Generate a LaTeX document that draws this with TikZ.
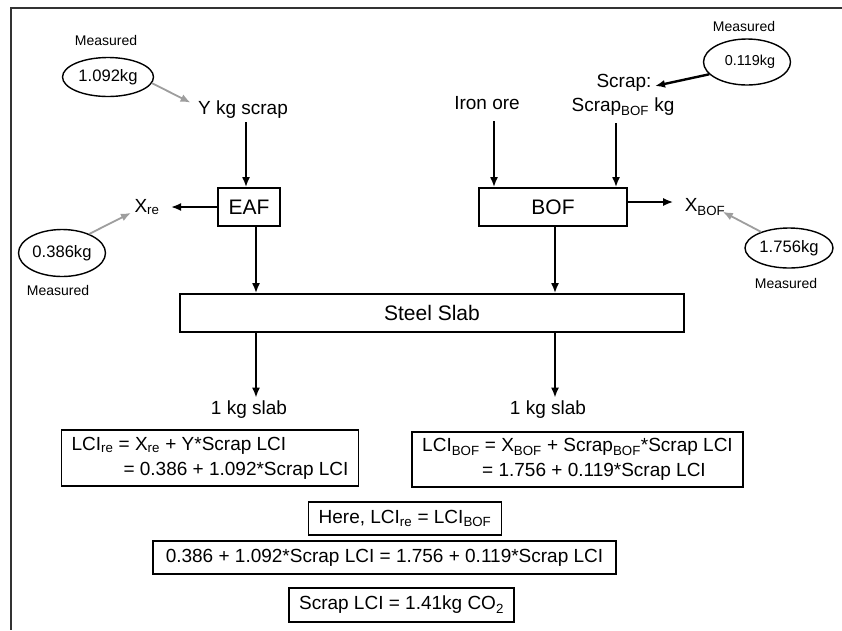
\documentclass[tikz,border=0pt]{standalone}
\usepackage{fontspec}
\setmainfont{Liberation Sans}
\usepackage{xcolor}
\usetikzlibrary{arrows.meta,calc,positioning,shapes.geometric}
\definecolor{arrowgray}{RGB}{158,158,158}
\tikzset{%
	txt/.style       = {font=\fontsize{19}{24}\selectfont},
	meas/.style      = {font=\fontsize{14}{16}\selectfont},
	valell/.style    = {draw, ellipse, line width=1.4pt, inner sep=0pt, font=\fontsize{16.6}{18}\selectfont},
	process/.style   = {draw, rectangle, line width=1.8pt, minimum height=38pt, text centered, font=\fontsize{21}{24}\selectfont},
	eqbox/.style     = {draw, rectangle, line width=1.5pt, inner xsep=10pt, font=\fontsize{19}{25}\selectfont},
	arrow/.style     = {line width=1.8pt, -{Latex[length=10pt,width=8pt]}},
	grayarrow/.style = {arrow, draw=arrowgray},
}
\begin{document}
\begin{tikzpicture}[x=1pt,y=-1pt]
		\useasboundingbox (0,0) rectangle (842,630);
		\draw[line width=1.4pt, black!80] (842,8) -- (11,8) -- (11,630);  % frame
		% EAF route
		\node[meas] (meas1) at (106,40) {Measured};
		\node[valell, minimum width=91pt, minimum height=39pt] (val1) at (108,77) {1.092kg};
		\node[txt] (yscrap) at (243,110) {Y kg scrap};
		\node[process, minimum width=62pt] (eaf) at (249,207) {EAF};
		\node[txt] (xre) at (147,207) {X\textsubscript{re}};
		\node[valell, minimum width=87pt, minimum height=47pt] (val2) at (62,253) {0.386kg};
		\node[meas] (meas2) at (58,290) {Measured};
		% BOF route
		\node[txt] (iron) at (487,103) {Iron ore};
		\node[txt] (scraplbl) at (624,83) {Scrap:};
		\node[txt] (scrapbof) at (623,107) {Scrap\textsubscript{BOF} kg};
		\node[meas] (meas3) at (744,26) {Measured};
		\node[valell, minimum width=87pt, minimum height=46pt, font=\fontsize{14.4}{16}\selectfont] (val3) at (747,62) {\hspace*{6pt}0.119kg};
		\node[process, minimum width=148pt] (bof) at (553,207) {BOF};
		\node[txt] (xbof) at (705,207) {X\textsubscript{BOF}};
		\node[valell, minimum width=88pt, minimum height=40pt] (val4) at (789,248) {1.756kg};
		\node[meas] (meas4) at (786,283) {Measured};
		% slab
		\node[process, minimum width=504pt] (slab) at (432,313) {Steel Slab};
		\node[txt] (slabl) at (249,410) {1 kg slab};
		\node[txt] (slabr) at (548,410) {1 kg slab};
		% equations
		\node[eqbox, minimum width=288pt, minimum height=56pt, align=left] (lcire) at (210,458) {LCI\textsubscript{re} = X\textsubscript{re} + Y*Scrap LCI\\\hspace*{52pt}= 0.386 + 1.092*Scrap LCI};
		\node[eqbox, minimum width=327pt, minimum height=55pt, align=left] (lcibof) at (577.5,459.5) {LCI\textsubscript{BOF} = X\textsubscript{BOF} + Scrap\textsubscript{BOF}*Scrap LCI\\\hspace*{60pt}= 1.756 + 0.119*Scrap LCI};
		\node[eqbox, minimum width=192pt, minimum height=33pt] (here) at (405,518.5) {Here, LCI\textsubscript{re} = LCI\textsubscript{BOF}};
		\node[eqbox, minimum width=463pt, minimum height=33pt] (equal) at (384.5,557.5) {0.386 + 1.092*Scrap LCI = 1.756 + 0.119*Scrap LCI};
		\node[eqbox, minimum width=225pt, minimum height=34pt] (result) at (401.5,605) {Scrap LCI = 1.41kg CO\textsubscript{2}};
		% flows
		\draw[grayarrow] (val1.-8) -- ([xshift=-4pt,yshift=-5pt]yscrap.north west);
		\draw[arrow] ([xshift=-3pt]eaf.north |- yscrap.south) -- ([xshift=-3pt]eaf.north);
		\draw[arrow, shorten >=8pt] (eaf.west) -- (xre.east);
		\draw[grayarrow] (val2.35) -- (xre.200);
		\draw[arrow] ([xshift=7pt]eaf.south) -- ([xshift=7pt]eaf.south |- slab.north);
		\draw[arrow] ([xshift=7pt]eaf.south |- slab.south) -- ([xshift=7pt]eaf.south |- slabl.north);
		\draw[arrow, shorten <=8pt] ([xshift=7pt]iron.south) -- ([xshift=7pt]iron.south |- bof.north);
		\draw[arrow, shorten <=4pt] ([xshift=-7pt]scrapbof.south) -- ([xshift=-7pt]scrapbof.south |- bof.north);
		\draw[arrow, line width=2.4pt] (val3.198) -- ([yshift=-3pt]scraplbl.east);
		\draw[arrow, shorten >=8pt] ([yshift=5pt]bof.east) -- ([yshift=5pt]bof.east -| xbof.west);
		\draw[grayarrow] (val4.150) -- ([xshift=-6pt,yshift=7pt]xbof.south east);
		\draw[arrow] ([xshift=2pt]bof.south) -- ([xshift=2pt]bof.south |- slab.north);
		\draw[arrow] ([xshift=2pt]bof.south |- slab.south) -- ([xshift=2pt]bof.south |- slabr.north);
\end{tikzpicture}
\end{document}
